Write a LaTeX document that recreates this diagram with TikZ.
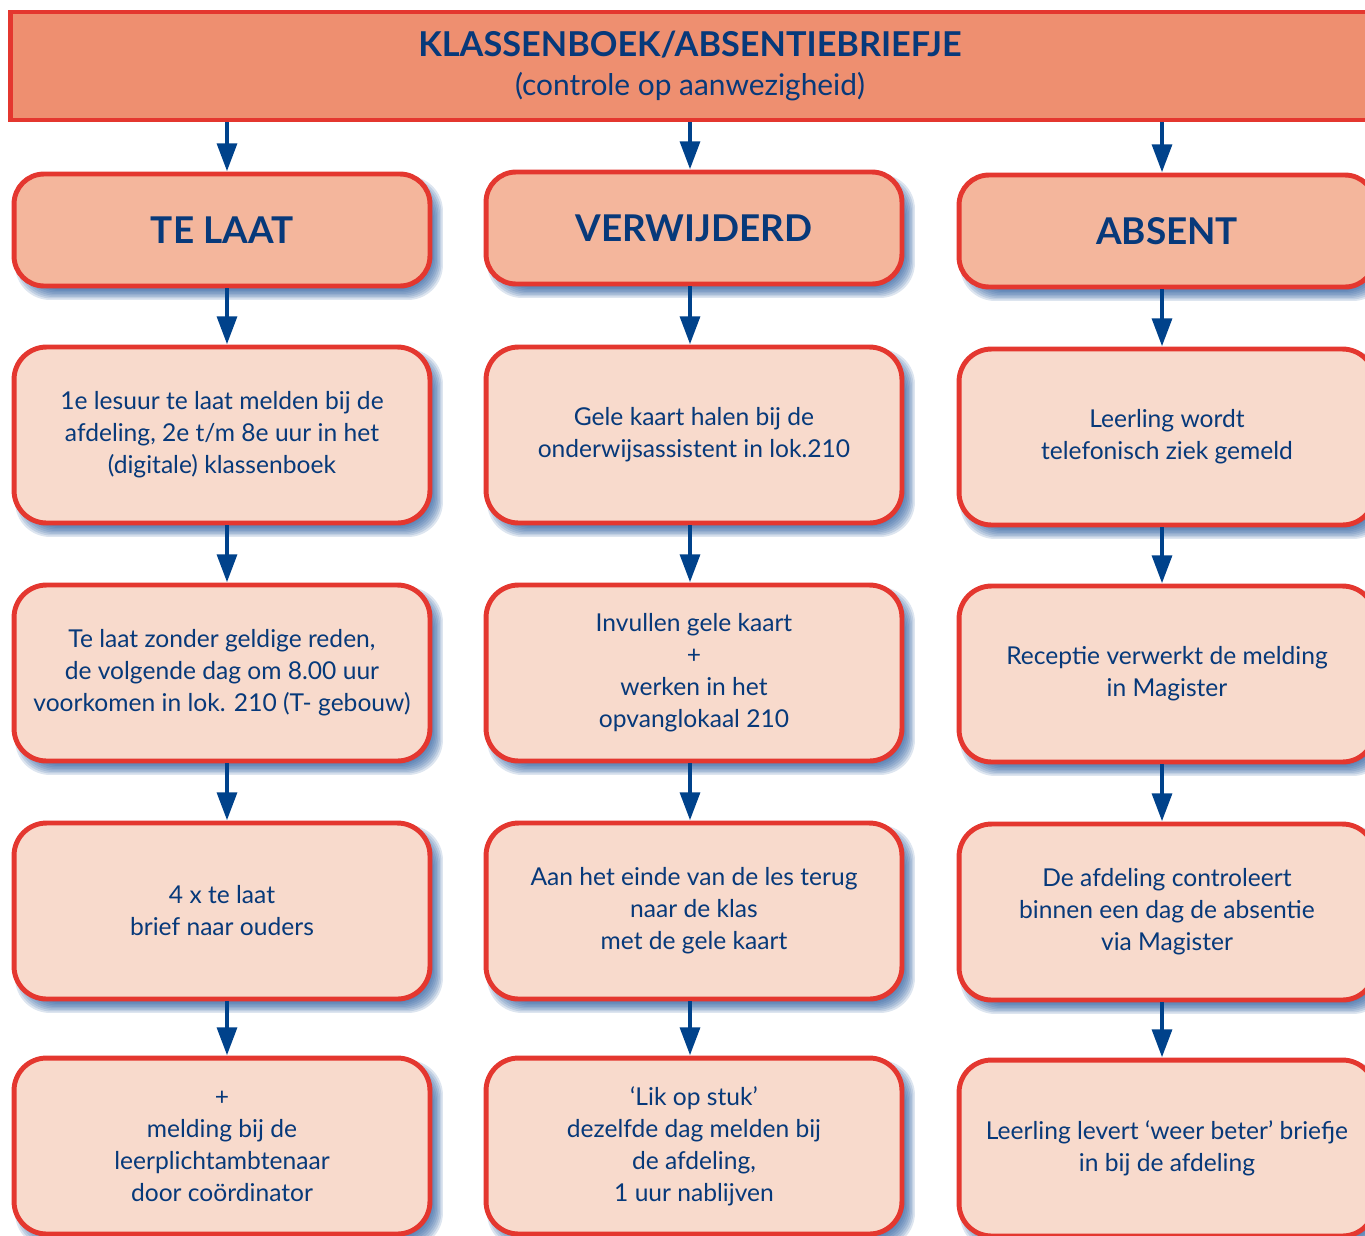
\documentclass[tikz,border=0pt]{standalone}
\usepackage{fontspec}
\setmainfont{Lato}
\usetikzlibrary{arrows.meta,backgrounds}

\definecolor{rand}{HTML}{E4372F}
\definecolor{kopvul}{HTML}{EE8F70}
\definecolor{titelvul}{HTML}{F4B69C}
\definecolor{vakvul}{HTML}{F8DACC}
\definecolor{tekstblauw}{HTML}{07397A}
\definecolor{pijlblauw}{HTML}{00428B}
\definecolor{schaduwblauw}{HTML}{2A5C9E}

\tikzset{
    kop/.style={draw=rand, line width=2.8pt, fill=kopvul, text=tekstblauw,
        minimum width=27.2cm, minimum height=2.16cm, align=center},
    titel/.style={draw=rand, line width=2.8pt, fill=titelvul, text=tekstblauw,
        rounded corners=.6cm, minimum width=8.32cm, minimum height=2.24cm,
        font=\fontsize{21}{24}\selectfont\bfseries},
    vak/.style={draw=rand, line width=2.8pt, fill=vakvul, text=tekstblauw,
        rounded corners=.65cm, minimum width=8.32cm, minimum height=3.52cm,
        align=center, font=\fontsize{14}{18.2}\selectfont},
    pijl/.style={draw=pijlblauw, line width=2.8pt,
        -{Triangle[length=16pt,width=11pt]}}
}

\newcommand\schaduw[1]{%
    \foreach \s in {0,...,7}
        \fill[schaduwblauw, opacity=.16, rounded corners=.7cm]
            ([shift={({.14cm-(\s*.03cm-.14cm)},{-.16cm+(\s*.03cm-.14cm)})}]#1.north west)
            rectangle
            ([shift={({.14cm+(\s*.03cm-.14cm)},{-.16cm-(\s*.03cm-.14cm)})}]#1.south east);
}

\begin{document}
\begin{tikzpicture}[
        x = .02cm,
        y = -.02cm
    ]
        \useasboundingbox (0, 0) rectangle (1365, 1235);

        \node[kop] (kop) at (690, 66)
            {{\fontsize{19.5}{22}\selectfont\bfseries KLASSENBOEK/ABSENTIEBRIEFJE}\\[7pt]
             {\fontsize{17}{20}\selectfont (controle op aanwezigheid)}};

        % te laat
        \node[titel] (l1) at (222, 230) {TE LAAT};
        \node[vak] (l2) at (222, 435) {1e lesuur te laat melden bij de\\afdeling, 2e t/m 8e uur in het\\(digitale) klassenboek};
        \node[vak] (l3) at (222, 673) {Te laat zonder geldige reden,\\de volgende dag om 8.00 uur\\voorkomen in lok. 210 (T- gebouw)};
        \node[vak] (l4) at (222, 911) {4 x te laat\\brief naar ouders};
        \node[vak] (l5) at (222, 1146) {+\\melding bij de\\leerplichtambtenaar\\door coördinator};

        % verwijderd
        \node[titel] (v1) at (694, 228) {VERWIJDERD};
        \node[vak] (v2) at (694, 435) {Gele kaart halen bij de\\onderwijsassistent in lok.210};
        \node[vak] (v3) at (694, 673) {Invullen gele kaart\\+\\werken in het\\opvanglokaal 210};
        \node[vak] (v4) at (694, 911) {Aan het einde van de les terug\\naar de klas\\met de gele kaart};
        \node[vak] (v5) at (694, 1146) {‘Lik op stuk’\\dezelfde dag melden bij\\de afdeling,\\1 uur nablijven};

        % absent
        \node[titel] (a1) at (1167, 231) {ABSENT};
        \node[vak] (a2) at (1167, 437) {Leerling wordt\\telefonisch ziek gemeld};
        \node[vak] (a3) at (1167, 674) {Receptie verwerkt de melding\\in Magister};
        \node[vak] (a4) at (1167, 912) {De afdeling controleert\\binnen een dag de absentie\\via Magister};
        \node[vak] (a5) at (1167, 1148) {Leerling levert ‘weer beter’ briefje\\in bij de afdeling};

        \begin{pgfonlayer}{background}
            \foreach \n in {l1,l2,l3,l4,l5,v1,v2,v3,v4,v5,a1,a2,a3,a4,a5}
                {\schaduw{\n}}
        \end{pgfonlayer}

        \foreach \k/\dx in {l/5,v/-4,a/-5} {
            \draw[pijl] ([xshift=\dx*.02cm]kop.south -| \k1.north) -- ([xshift=\dx*.02cm]\k1.north);
            \draw[pijl] ([xshift=\dx*.02cm]\k1.south) -- ([xshift=\dx*.02cm]\k2.north);
            \draw[pijl] ([xshift=\dx*.02cm]\k2.south) -- ([xshift=\dx*.02cm]\k3.north);
            \draw[pijl] ([xshift=\dx*.02cm]\k3.south) -- ([xshift=\dx*.02cm]\k4.north);
            \draw[pijl] ([xshift=\dx*.02cm]\k4.south) -- ([xshift=\dx*.02cm]\k5.north);
        }
\end{tikzpicture}
\end{document}
